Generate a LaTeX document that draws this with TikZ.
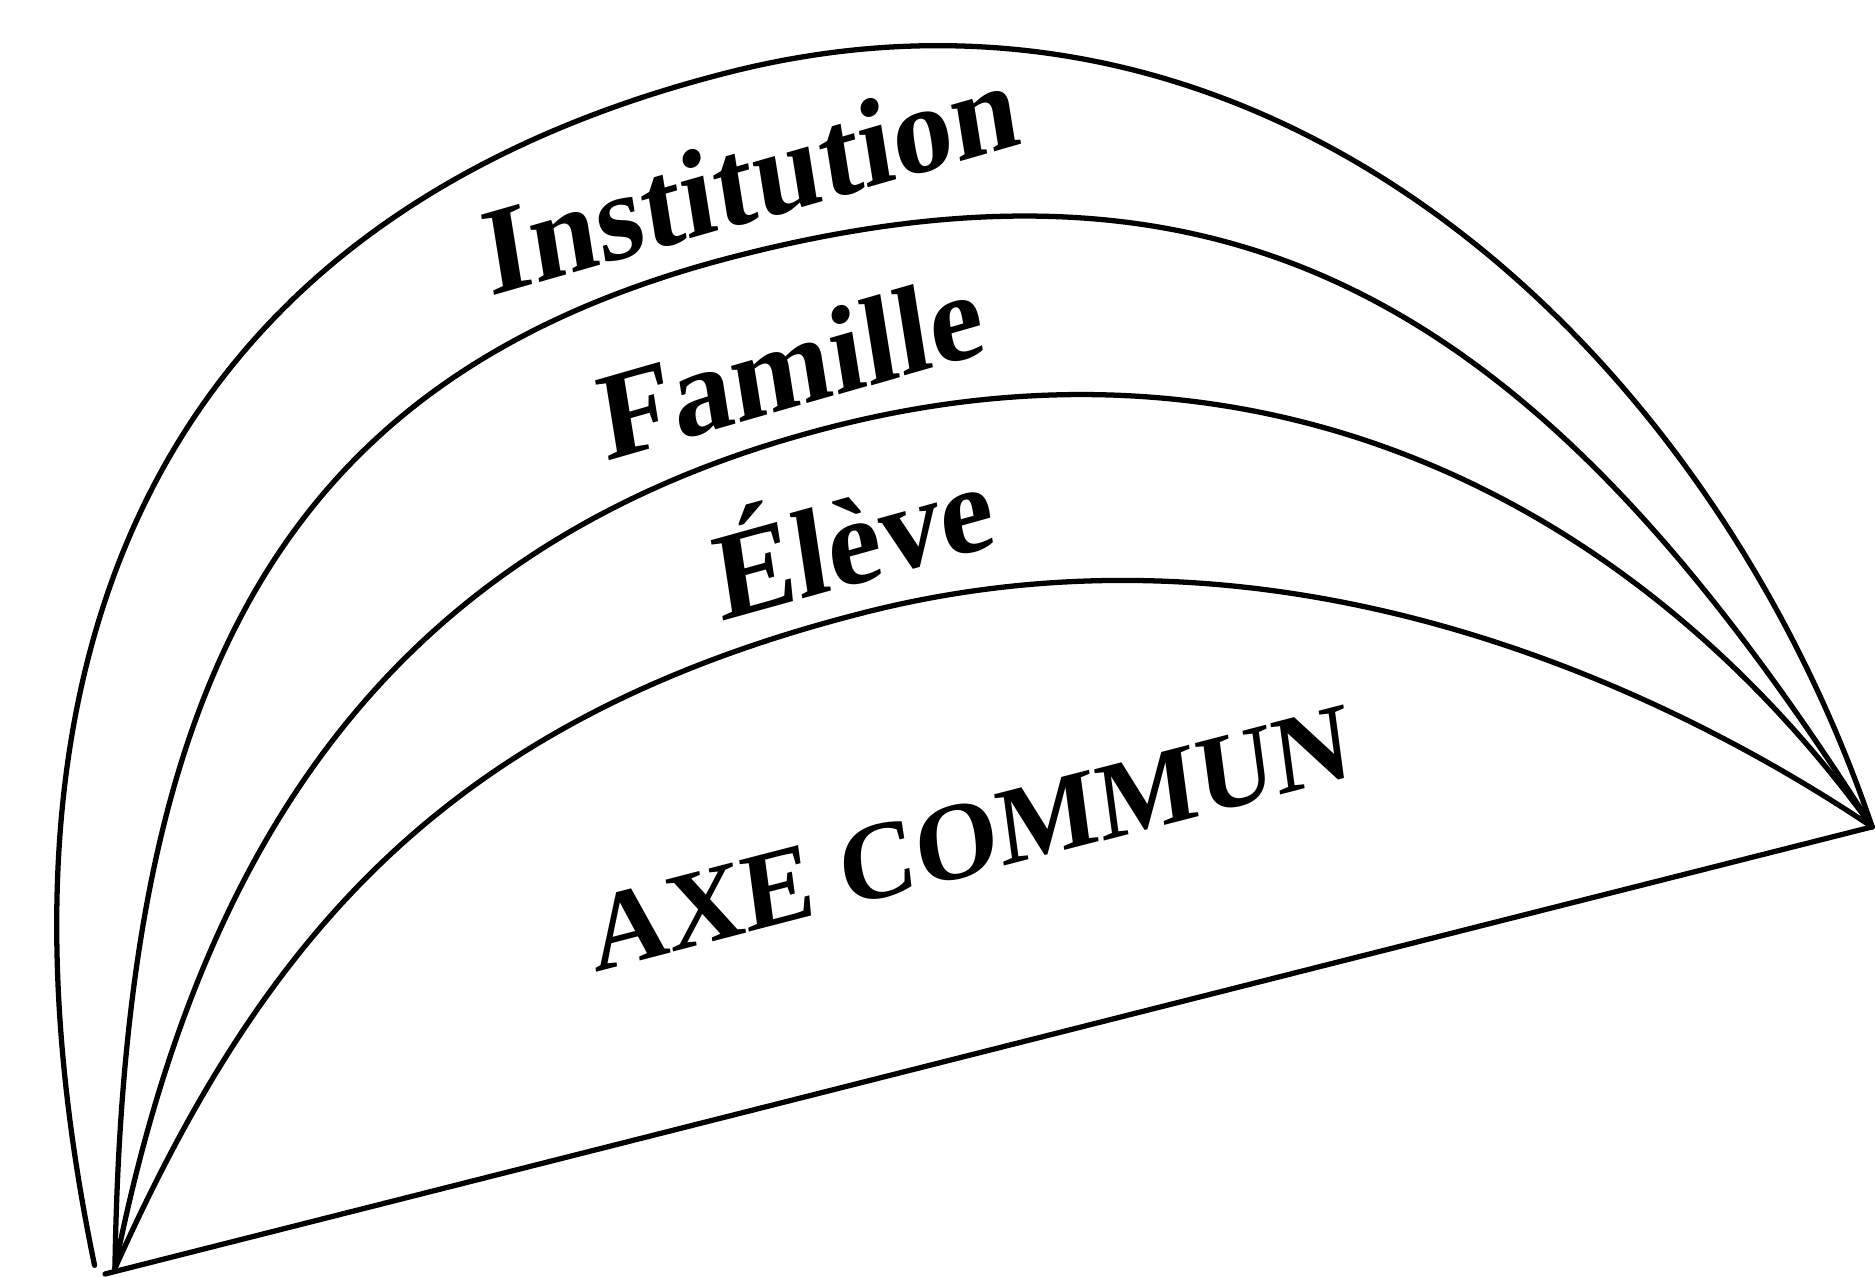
\documentclass[tikz,border=0pt]{standalone}
\usepackage{fontspec}
\setmainfont{Liberation Serif}
\begin{document}
\begin{tikzpicture}[x=0.01cm,y=0.01cm,
  arcline/.style={line width=1.5pt, line join=round, line cap=round},
  lbl/.style={font=\fontsize{35}{40}\selectfont\bfseries, anchor=base, inner sep=0pt, transform shape},
  axelbl/.style={font=\fontsize{31}{36}\selectfont\bfseries, anchor=base, inner sep=0pt, transform shape}]
\useasboundingbox (0,0) rectangle (1875,-1277);
\begin{scope}[shift={(105,-1274)}, rotate=14.2]
  \coordinate (O) at (0,0);
  \coordinate (A1) at (-8,11);
  \coordinate (A) at (11,3);
  \coordinate (B) at (1823,0);
  \coordinate (T1) at (900,1012);
  \coordinate (T2) at (866,832);
  \coordinate (T3) at (915,643);
  \coordinate (T4) at (900,455);
  % outer arc
  \draw[arcline] (A1) .. controls (20,660) and (330,1012) .. (T1)
                      .. controls (1460,1012) and (1783,500) .. (B);
  % second arc
  \draw[arcline] (A) .. controls (162,563) and (386,832) .. (T2)
                     .. controls (1386,832) and (1632,580) .. (B);
  % third arc
  \draw[arcline] (A) .. controls (200,400) and (465,643) .. (T3)
                     .. controls (1365,643) and (1675,370) .. (B);
  % fourth arc
  \draw[arcline] (A) .. controls (238,290) and (470,455) .. (T4)
                     .. controls (1320,455) and (1643,200) .. (B);
  % base line
  \draw[arcline] (O) -- (B);
\end{scope}
\begin{scope}[shift={(757,-220)}, rotate=16, xslant=0.12]
  \node[lbl] (inst) at (0,0) {Institution};
\end{scope}
\begin{scope}[shift={(797,-407)}, rotate=16, xslant=0.12]
  \node[lbl] (fam) at (0,0) {Famille};
\end{scope}
\begin{scope}[shift={(860,-583)}, rotate=15.5, xslant=0.12]
  \node[lbl] (elv) at (0,0) {Élève};
\end{scope}
\begin{scope}[shift={(975,-874)}, rotate=14.5, xslant=0.12]
  \node[axelbl] (axe) at (0,0) {AXE COMMUN};
\end{scope}
\end{tikzpicture}
\end{document}
